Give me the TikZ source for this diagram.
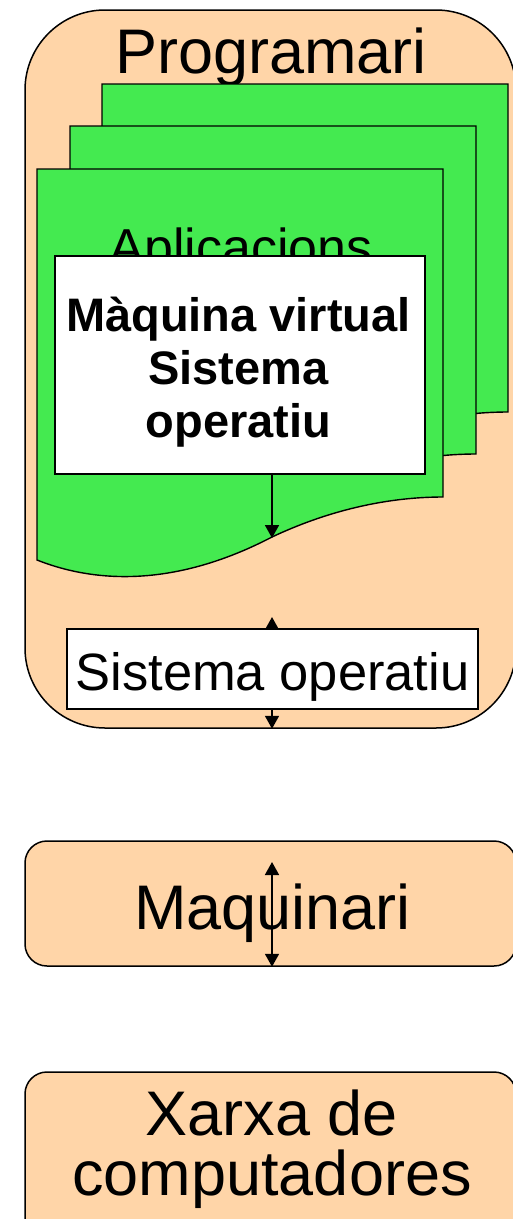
\documentclass[tikz,border=0pt]{standalone}
\usepackage{fontspec}
\setmainfont{Liberation Sans}
\usetikzlibrary{arrows.meta}
\definecolor{peach}{RGB}{255,213,168}
\definecolor{pagegreen}{RGB}{68,234,80}
\begin{document}
\begin{tikzpicture}[x=1pt,y=-1pt,line width=1.5pt,
  layerbox/.style={draw=black,fill=peach,inner sep=0pt,minimum width=491pt},
  whitebox/.style={draw=black,fill=white,inner sep=0pt},
  pagefill/.style={draw=black,fill=pagegreen,line width=1.4pt},
  bigtext/.style={anchor=base,inner sep=0pt,font=\fontsize{63}{63}\selectfont},
  vmtext/.style={anchor=base,inner sep=0pt,font=\bfseries\fontsize{47}{47}\selectfont},
  conn/.style={line width=1.7pt}]
\useasboundingbox (0,0) rectangle (513,1219);

% Programari container
\node[layerbox,rounded corners=80pt,minimum height=718pt] (prog) at (270.5,369) {};
\node[bigtext] (progt) at (271,73) {Programari};

% stacked application pages
\foreach \dx/\dy/\nm in {65/-85/pgc, 33/-43/pgb, 0/0/pga}{
  \begin{scope}[shift={(\dx,\dy)}]
    \filldraw[pagefill] (37,169) -- (443,169) -- (443,497)
      .. controls (400,497) and (340,505) .. (272,537)
      .. controls (180,585) and (100,585) .. (37,560) -- cycle;
  \end{scope}
}
\coordinate (wave) at (272,538);
\node[anchor=base,inner sep=0pt,font=\fontsize{52}{52}\selectfont] (apl) at (241,265) {Aplicacions};

% virtual machine box
\node[whitebox,minimum width=370pt,minimum height=218pt] (vm) at (240,365) {};
\node[vmtext] (vm1) at (238.5,331) {Màquina virtual};
\node[vmtext] (vm2) at (238.5,384) {Sistema};
\node[vmtext] (vm3) at (238.5,437) {operatiu};
\draw[conn,-{Triangle[length=13pt,width=14pt]}] (vm.south -| wave) -- (wave);

% operating system box
\coordinate (soT) at (272,617);
\draw[conn,{Triangle[length=13pt,width=14pt]}-{Triangle[length=13pt,width=14pt]}] (soT) -- (prog.south -| soT);
\node[whitebox,minimum width=411pt,minimum height=80pt] (so) at (272.5,669) {};
\node[anchor=base,inner sep=0pt,font=\fontsize{52.5}{52.5}\selectfont] (sot) at (272.5,690) {Sistema operatiu};

% hardware
\node[layerbox,rounded corners=22pt,minimum height=125pt] (maq) at (270.5,903.5) {};
\node[bigtext] (maqt) at (272.5,929) {Maquinari};
\coordinate (maqT) at (272,862);
\draw[conn,{Triangle[length=13pt,width=14pt]}-{Triangle[length=13pt,width=14pt]}] (maqT) -- (maq.south -| maqT);

% network
\node[layerbox,rounded corners=22pt,minimum height=168pt] (xar) at (270.5,1156) {};
\node[bigtext] (xar1) at (272,1135) {Xarxa de};
\node[bigtext] (xar2) at (272,1195) {computadores};
\end{tikzpicture}
\end{document}
